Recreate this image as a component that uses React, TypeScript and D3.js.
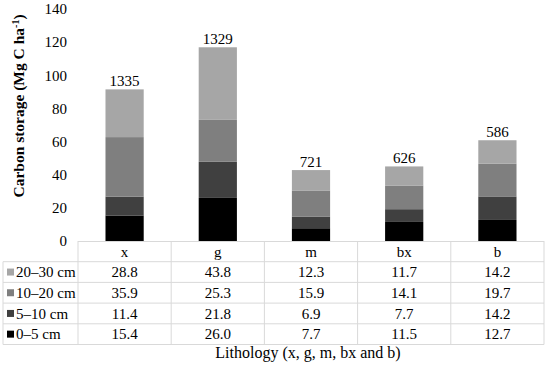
import React from 'react';
import * as d3 from 'd3';

const categories = ['x', 'g', 'm', 'bx', 'b'];
const series = ['20–30 cm', '10–20 cm', '5–10 cm', '0–5 cm'];
const depth20_30 = [28.8, 43.8, 12.3, 11.7, 14.2];
const depth10_20 = [35.9, 25.3, 15.9, 14.1, 19.7];
const depth5_10 = [11.4, 21.8, 6.9, 7.7, 14.2];
const depth0_5 = [15.4, 26.0, 7.7, 11.5, 12.7];
const totals = ['1335', '1329', '721', '626', '586'];
const yTicks = [0, 20, 40, 60, 80, 100, 120, 140];

const colors: Record<string, string> = {
  '20–30 cm': '#a6a6a6',
  '10–20 cm': '#7f7f7f',
  '5–10 cm': '#404040',
  '0–5 cm': '#000000',
};

const W = 550;
const H = 366;
const left = 78;
const right = 544;
const top = 9;
const bottom = 241;
const rowH = 20.7;
const fs = 15;
const font = '"Liberation Serif", "Times New Roman", serif';

export default function App() {
  const x = d3.scaleBand<string>().domain(categories).range([left, right]).paddingInner(0).paddingOuter(0);
  const y = d3.scaleLinear().domain([0, 140]).range([bottom, top]);
  const barW = x.bandwidth() * 0.41;

  const rows = categories.map((c, i) => ({
    key: c,
    '0–5 cm': depth0_5[i],
    '5–10 cm': depth5_10[i],
    '10–20 cm': depth10_20[i],
    '20–30 cm': depth20_30[i],
  }));
  const stack = d3.stack<any>().keys(['0–5 cm', '5–10 cm', '10–20 cm', '20–30 cm']);
  const layers = stack(rows);

  const tableRows = [
    { name: series[0], vals: depth20_30 },
    { name: series[1], vals: depth10_20 },
    { name: series[2], vals: depth5_10 },
    { name: series[3], vals: depth0_5 },
  ];
  const border = '#d9d9d9';
  const tableLeft = 3;
  const tableBottom = bottom + rowH * 5;

  return (
    <div style={{ position: 'absolute', left: 0, top: 0 }}>
      <svg width={W} height={H} style={{ display: 'block', background: '#fff' }} fontFamily={font}>
        {/* y ticks */}
        {yTicks.map((t) => (
          <text key={t} x={left - 11} y={y(t)} dy="0.35em" textAnchor="end" fontSize={fs} fill="#000">
            {t}
          </text>
        ))}
        <text
          transform={`translate(${24},${106}) rotate(-90)`}
          textAnchor="middle"
          fontSize={15.5}
          fontWeight="bold"
          fill="#000"
        >
          Carbon storage (Mg C ha<tspan dy="-5" fontSize={10}>-1</tspan><tspan dy="5">)</tspan>
        </text>

        {/* bars */}
        {layers.map((layer) => (
          <g key={layer.key} fill={colors[layer.key]}>
            {layer.map((d, i) => (
              <rect
                key={i}
                x={(x(categories[i]) ?? 0) + (x.bandwidth() - barW) / 2}
                y={y(d[1])}
                width={barW}
                height={y(d[0]) - y(d[1])}
              />
            ))}
          </g>
        ))}
        {categories.map((c, i) => (
          <text
            key={c}
            x={(x(c) ?? 0) + x.bandwidth() / 2}
            y={y(layers[3][i][1]) - 3}
            textAnchor="middle"
            fontSize={fs}
            fill="#000"
          >
            {totals[i]}
          </text>
        ))}

        {/* data table */}
        <g stroke={border} strokeWidth={1} fill="none">
          <line x1={left} x2={right} y1={bottom + 0.5} y2={bottom + 0.5} />
          {[1, 2, 3, 4, 5].map((k) => (
            <line key={k} x1={tableLeft} x2={right} y1={bottom + rowH * k} y2={bottom + rowH * k} />
          ))}
          <line x1={tableLeft} x2={tableLeft} y1={bottom + rowH} y2={tableBottom} />
          {categories.map((c) => (
            <line key={c} x1={x(c)} x2={x(c)} y1={bottom} y2={tableBottom} />
          ))}
          <line x1={right} x2={right} y1={bottom} y2={tableBottom} />
        </g>
        {categories.map((c) => (
          <text
            key={c}
            x={(x(c) ?? 0) + x.bandwidth() / 2}
            y={bottom + rowH / 2}
            dy="0.35em"
            textAnchor="middle"
            fontSize={fs}
            fill="#000"
          >
            {c}
          </text>
        ))}
        {tableRows.map((r, ri) => {
          const cy = bottom + rowH * (ri + 1) + rowH / 2;
          return (
            <g key={r.name}>
              <rect x={7} y={cy - 3.5} width={7} height={7} fill={colors[r.name]} />
              <text x={16} y={cy} dy="0.35em" fontSize={fs} fill="#000">
                {r.name}
              </text>
              {r.vals.map((v, i) => (
                <text
                  key={i}
                  x={(x(categories[i]) ?? 0) + x.bandwidth() / 2}
                  y={cy}
                  dy="0.35em"
                  textAnchor="middle"
                  fontSize={fs}
                  fill="#000"
                >
                  {v.toFixed(1)}
                </text>
              ))}
            </g>
          );
        })}
        <text x={(left + right) / 2 - 3} y={tableBottom + 13} textAnchor="middle" fontSize={16} fill="#000">
          Lithology (x, g, m, bx and b)
        </text>
      </svg>
    </div>
  );
}
